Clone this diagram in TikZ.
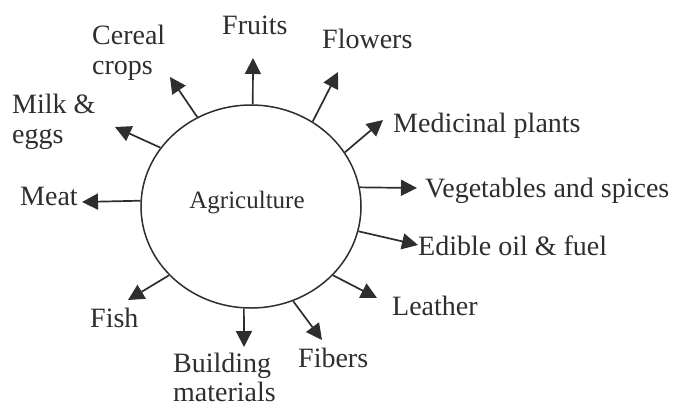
\documentclass[tikz,border=0pt]{standalone}
\usepackage{fontspec}
\setmainfont{Liberation Serif}
\usetikzlibrary{arrows.meta,shapes.geometric}
\definecolor{ink}{HTML}{2E2E2E}
\begin{document}
\begin{tikzpicture}[x=1pt,y=-1pt,
  lbl/.style={inner sep=0pt,anchor=base west,text=ink,font=\fontsize{28}{30}\selectfont,align=left},
  arr/.style={draw=ink,line width=1.7pt,-{Triangle[length=16pt,width=16pt]}}]
\useasboundingbox[fill=white] (0,0) rectangle (676,408);
\node[draw=ink,line width=1.5pt,ellipse,minimum width=220pt,minimum height=203pt,inner sep=0pt] (ag) at (251,206.5) {};
\node[inner sep=0pt,text=ink,font=\fontsize{25}{28}\selectfont] (agt) at (247,203) {Agriculture};
% labels (base anchor = baseline of the last line)
\node[lbl] (cereal) at (92,74) {Cereal\\crops};
\node[lbl] (fruits) at (222,34) {Fruits};
\node[lbl] (flowers) at (322,48) {Flowers};
\node[lbl] (medic) at (393,132) {Medicinal plants};
\node[lbl] (veg) at (425,197) {Vegetables and spices};
\node[lbl] (oil) at (418,255) {Edible oil \& fuel};
\node[lbl] (leather) at (392,315) {Leather};
\node[lbl] (fibers) at (298,367) {Fibers};
\node[lbl,font=\fontsize{28}{29}\selectfont] (build) at (173,401) {Building\\materials};
\node[lbl] (fish) at (90,327) {Fish};
\node[lbl] (meat) at (20,205) {Meat};
\node[lbl] (milk) at (12,143) {Milk \&\\eggs};
% arrow tips
\coordinate (tcereal) at (170,77);
\coordinate (tfruits) at (253,58);
\coordinate (tflowers) at (338,72);
\coordinate (tmedic) at (383,120);
\coordinate (tveg) at (417,188);
\coordinate (toil) at (418,245);
\coordinate (tleather) at (377,298);
\coordinate (tfibers) at (322,340);
\coordinate (tbuild) at (244,347);
\coordinate (tfish) at (128,300);
\coordinate (tmeat) at (82,202);
\coordinate (tmilk) at (115,127);
% arrows
\draw[arr] (ag.121) -- (tcereal);
\draw[arr] (ag.89) -- (tfruits);
\draw[arr] (ag.54) -- (tflowers);
\draw[arr] (ag.30) -- (tmedic);
\draw[arr] (ag.10) -- (tveg);
\draw[arr] (ag.-13.4) -- (toil);
\draw[arr] (ag.-40.6) -- (tleather);
\draw[arr] (ag.-66.3) -- (tfibers);
\draw[arr] (ag.-94) -- (tbuild);
\draw[arr] (ag.220.3) -- (tfish);
\draw[arr] (ag.177.7) -- (tmeat);
\draw[arr] (ag.147.4) -- (tmilk);
\end{tikzpicture}
\end{document}
